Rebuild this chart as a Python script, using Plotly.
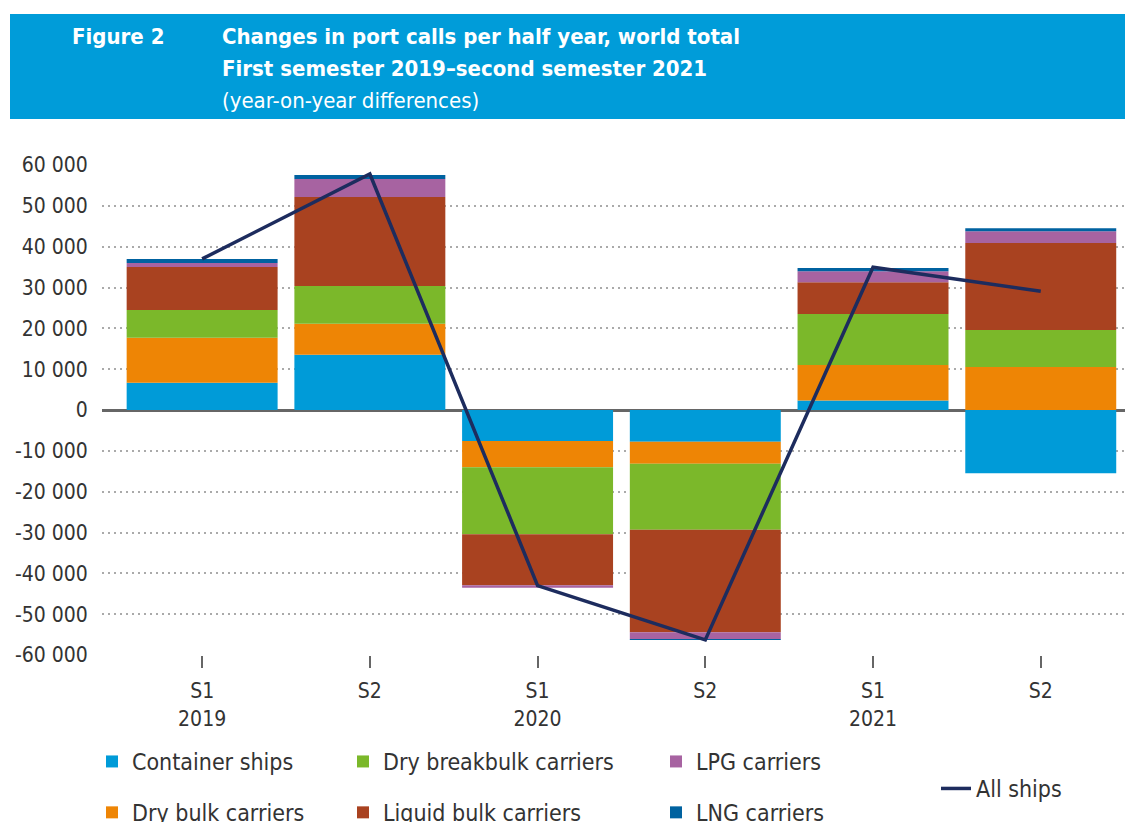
import plotly.graph_objects as go

categories = ["S1 2019", "S2 2019", "S1 2020", "S2 2020", "S1 2021", "S2 2021"]
tick_labels = ["S1<br>2019", "S2", "S1<br>2020", "S2", "S1<br>2021", "S2"]

container_ships = [6700, 13500, -7600, -7750, 2300, -15500]
dry_bulk = [11000, 7650, -6400, -5400, 8700, 10500]
dry_breakbulk = [6800, 9200, -16400, -16150, 12500, 9100]
liquid_bulk = [10500, 21800, -12500, -25100, 7800, 21300]
lpg_carriers = [1000, 4400, -650, -1700, 2700, 2900]
lng_carriers = [1000, 1000, 0, -200, 750, 700]
all_ships = [37000, 57800, -43000, -56300, 34950, 29070]

series = [
    ("Container ships", container_ships, "#009bd8", "legend"),
    ("Dry bulk carriers", dry_bulk, "#ee8505", "legend"),
    ("Dry breakbulk carriers", dry_breakbulk, "#7bb82a", "legend2"),
    ("Liquid bulk carriers", liquid_bulk, "#a94220", "legend2"),
    ("LPG carriers", lpg_carriers, "#a763a1", "legend3"),
    ("LNG carriers", lng_carriers, "#0062a0", "legend3"),
]

FONT = "DejaVu Sans Condensed, Liberation Sans Narrow, Roboto, sans-serif"
TXT = "#333333"

fig = go.Figure()
for name, vals, col, lg in series:
    fig.add_trace(go.Bar(x=categories, y=vals, name=name, marker_color=col,
                         marker_line_width=0, legend=lg, legendgroup=name))
fig.add_trace(go.Scatter(x=categories, y=all_ships, name="All ships", mode="lines",
                         line=dict(color="#1d2c5e", width=3.5), legend="legend4"))

# page body has an 8px margin; work in window pixels and convert
OFF = 8
W, H = 1133 - OFF, 822 - OFF
L, R, T, B = 102 - OFF, 0, 165 - OFF, 822 - 655
pw, ph = W - L - R, H - T - B

def px(x):
    return (x - OFF - L) / pw

def py(y):
    return (H - B - (y - OFF)) / ph

legend_common = dict(font=dict(family=FONT, size=23, color=TXT), bgcolor="rgba(0,0,0,0)",
                     xanchor="left", yanchor="top",
                     traceorder="grouped", tracegroupgap=18, orientation="v",
                     itemwidth=30)

fig.update_layout(
    width=W, height=H,
    margin=dict(l=L, r=R, t=T, b=B, autoexpand=False),
    paper_bgcolor="white", plot_bgcolor="white",
    barmode="relative", bargap=0.1,
    font=dict(family=FONT, color=TXT),
    showlegend=True,
    legend=dict(**legend_common, x=px(92), y=py(740)),
    legend2=dict(**legend_common, x=px(343), y=py(740)),
    legend3=dict(**legend_common, x=px(656), y=py(740)),
    legend4=dict(**legend_common, x=px(936), y=py(767)),
    xaxis=dict(
        type="category", categoryorder="array", categoryarray=categories,
        tickvals=categories, ticktext=tick_labels,
        range=[-0.597, 5.55], automargin=False,
        showgrid=False, zeroline=False, showline=False,
        ticks="outside", ticklen=12, tickwidth=2, tickcolor="#666666",
        ticklabelstandoff=5,
        tickfont=dict(family=FONT, size=21, color=TXT),
    ),
    yaxis=dict(
        range=[-60000, 60000], automargin=False,
        tickvals=list(range(-60000, 60001, 10000)),
        ticktext=[f"{v:,}".replace(",", " ") for v in range(-60000, 60001, 10000)],
        showgrid=True, gridcolor="#aaaaaa", gridwidth=2, griddash="2px,4px",
        zeroline=True, zerolinecolor="#666666", zerolinewidth=3,
        showline=False,
        ticks="outside", ticklen=9, tickcolor="rgba(0,0,0,0)",
        tickfont=dict(family=FONT, size=21, color=TXT),
    ),
)

fig.add_shape(type="rect", xref="paper", yref="paper",
              x0=px(10), x1=px(1140), y0=py(119), y1=py(14),
              fillcolor="#009cd9", line_width=0, layer="below")

def hdr(text, x, ytop, size=22):
    fig.add_annotation(text=text, xref="paper", yref="paper", x=px(x), y=py(ytop),
                       xanchor="left", yanchor="top", showarrow=False,
                       font=dict(family=FONT, size=size, color="white"))

hdr("<b>Figure 2</b>", 70, 22)
hdr("<b>Changes in port calls per half year, world total</b>", 220, 22)
hdr("<b>First semester 2019–second semester 2021</b>", 220, 54)
hdr("(year-on-year differences)", 220, 86)

fig.write_html("out.html")
